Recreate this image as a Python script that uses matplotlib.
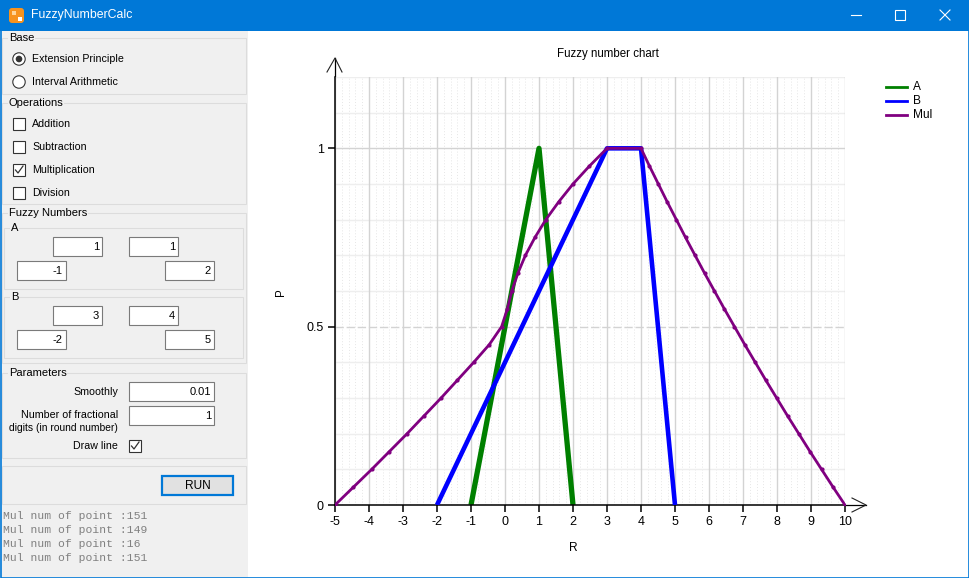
import numpy as np
import matplotlib.pyplot as plt
from matplotlib.patches import Rectangle, Circle, FancyBboxPatch

W, H = 970, 578

# fuzzy numbers (R values, P values)
a_r = [-1, 1, 1, 2]
a_p = [0, 1, 1, 0]
b_r = [-2, 3, 4, 5]
b_p = [0, 1, 1, 0]

# Mul result (left branch going up, right branch going up)
mul_p = [0.0, 0.05, 0.1, 0.15, 0.2, 0.25, 0.3, 0.35, 0.4, 0.45, 0.5,
         0.55, 0.6, 0.65, 0.7, 0.75, 0.8, 0.85, 0.9, 0.95, 1.0]
mul_left = [-5.0, -4.46, -3.92, -3.4, -2.88, -2.38, -1.88, -1.4, -0.92, -0.46, -0.1,
            0.07, 0.2, 0.38, 0.6, 0.88, 1.2, 1.58, 2.0, 2.48, 3.0]
mul_right = [10.0, 9.65, 9.31, 8.97, 8.64, 8.31, 7.99, 7.67, 7.36, 7.05, 6.75,
             6.45, 6.16, 5.87, 5.59, 5.31, 5.04, 4.77, 4.51, 4.25, 4.0]

series_names = ['A', 'B', 'Mul']
series_colors = ['#008000', '#0000ff', '#800080']

x_ticks = list(range(-5, 11))
y_ticks = [0, 0.5, 1]
y_tick_labels = ['0', '0.5', '1']

log_lines = ['Mul num of point :151', 'Mul num of point :149',
             'Mul num of point :16', 'Mul num of point :151']

ui_font = 'Liberation Sans'
chart_font = 'Liberation Sans'
panel = '#f0f0f0'
edge = '#dcdcdc'

fig = plt.figure(figsize=(W / 100, H / 100), dpi=100)
ui = fig.add_axes([0, 0, 1, 1], zorder=0)
ui.set_xlim(0, W)
ui.set_ylim(H, 0)
ui.axis('off')


def txt(x, y, s, size=7.7, **kw):
    kw.setdefault('va', 'center')
    kw.setdefault('color', '#000000')
    ui.text(x, y, s, fontsize=size, family=ui_font, **kw)


def rect(x0, y0, x1, y1, fc='none', ec=edge, lw=0.75, z=1):
    ui.add_patch(Rectangle((x0, y0), x1 - x0, y1 - y0, facecolor=fc,
                           edgecolor=ec, linewidth=lw, zorder=z))


def group(x0, y0, x1, y1, label):
    rect(x0, y0, x1, y1)
    txt(x0 + 7, y0, label, size=8.0, bbox=dict(fc=panel, ec='none', pad=0.5), zorder=3)


def textbox(x0, y0, x1, y1, s):
    rect(x0, y0, x1, y1, fc='white', ec='#7a7a7a', lw=0.8, z=2)
    txt(x1 - 3, (y0 + y1) / 2 + 0.5, s, size=8.0, ha='right', zorder=3)


def checkbox(x0, yc, checked):
    rect(x0, yc - 6, x0 + 12, yc + 6, fc='white', ec='#333333', lw=0.8, z=2)
    if checked:
        ui.plot([x0 + 2.5, x0 + 5, x0 + 10], [yc, yc + 3, yc - 4], color='#333333', lw=0.9, zorder=3)


def radio(xc, yc, selected):
    ui.add_patch(Circle((xc, yc), 6.2, facecolor='white', edgecolor='#333333', lw=0.8, zorder=2))
    if selected:
        ui.add_patch(Circle((xc, yc), 3.3, facecolor='#333333', edgecolor='none', zorder=3))


# window frame
rect(0, 0, W, H, fc='white', ec='none', z=0)
rect(0, 31, 248, H, fc=panel, ec='none', z=0)
rect(0, 0, W, 31, fc='#0078d7', ec='none', z=1)
ui.plot([0.5, 0.5, W - 0.5, W - 0.5], [31, H - 0.5, H - 0.5, 31], color='#0078d7', lw=1.2, zorder=5)
ui.add_patch(FancyBboxPatch((9, 8), 15, 15, boxstyle='round,pad=0,rounding_size=3',
                            fc='#f7931e', ec='none', zorder=2))
rect(12, 11, 16, 15, fc='#ffd59a', ec='none', z=3)
rect(18, 17, 22, 21, fc='#ffffff', ec='none', z=3)
txt(31, 15, 'FuzzyNumberCalc', size=8.8, color='white')
ui.plot([851, 861], [15, 15], color='white', lw=0.8)
rect(895, 10, 905, 20, ec='white', lw=0.8, z=2)
ui.plot([940, 950], [10, 20], color='white', lw=0.8)
ui.plot([940, 950], [20, 10], color='white', lw=0.8)

# Base
group(2, 38, 246, 94, 'Base')
radio(19, 59, True)
txt(32, 59, 'Extension Principle')
radio(19, 82, False)
txt(32, 82, 'Interval Arithmetic')

# Operations
group(2, 103, 246, 204, 'Operations')
for yy, name, on in [(124, 'Addition', False), (147, 'Subtraction', False),
                     (170, 'Multiplication', True), (193, 'Division', False)]:
    checkbox(13, yy, on)
    txt(32, yy, name)

# Fuzzy numbers
group(2, 213, 246, 363, 'Fuzzy Numbers')
group(4, 228, 243, 289, 'A')
group(4, 297, 243, 358, 'B')
for oy, vals in [(0, a_r), (69, b_r)]:
    textbox(53, 237 + oy, 102, 256 + oy, str(vals[1]))
    textbox(129, 237 + oy, 178, 256 + oy, str(vals[2]))
    textbox(17, 261 + oy, 66, 280 + oy, str(vals[0]))
    textbox(165, 261 + oy, 214, 280 + oy, str(vals[3]))

# Parameters
group(2, 373, 246, 458, 'Parameters')
txt(118, 392, 'Smoothly', ha='right')
textbox(129, 382, 214, 401, '0.01')
txt(118, 415, 'Number of fractional', ha='right')
txt(118, 428, 'digits (in round number)', ha='right', size=7.4)
textbox(129, 406, 214, 425, '1')
txt(118, 446, 'Draw line', ha='right')
checkbox(129, 446, True)

# run box
rect(2, 466, 246, 504)
rect(162, 476, 233, 495, fc='#e1e1e1', ec='#0078d7', lw=1.6, z=2)
txt(197.5, 486, 'RUN', ha='center', size=8.6, zorder=3)

for i, line in enumerate(log_lines):
    ui.text(3, 516 + 14 * i, line, fontsize=8.2, family='Liberation Mono',
            color='#808080', va='center')

# chart
ax = fig.add_axes([335 / W, (H - 505) / H, 510 / W, 428 / H], zorder=1)
ax.patch.set_visible(False)
ax.set_xlim(-5, 10)
ax.set_ylim(0, 1.2)

for xv in np.arange(-5, 10, 0.2):
    if abs(xv - round(xv)) > 1e-6:
        ax.axvline(xv, color='#e6e6e6', lw=0.7, ls=(0, (1, 2)), zorder=0)
for xv in x_ticks:
    ax.axvline(xv, color='#d3d3d3', lw=1.0, zorder=0.5)
for k in range(1, 13):
    yv = k / 10
    if k == 5:
        ax.axhline(yv, color='#d3d3d3', lw=1.0, ls=(0, (6, 2)), zorder=0.5)
    elif k == 10:
        ax.axhline(yv, color='#d3d3d3', lw=1.0, zorder=0.5)
    else:
        ax.axhline(yv, color='#eeeeee', lw=1.0, zorder=0.4)

ax.plot(a_r, a_p, color=series_colors[0], lw=3.8, solid_capstyle='butt', zorder=2)
ax.plot(b_r, b_p, color=series_colors[1], lw=3.3, solid_capstyle='butt', zorder=3)
mul_r = mul_left + mul_right[::-1]
mul_pp = mul_p + mul_p[::-1]
ax.plot(mul_r, mul_pp, color=series_colors[2], lw=2.0, marker='o', ms=2.0, zorder=4)

for s in ['top', 'right']:
    ax.spines[s].set_visible(False)
for s in ['left', 'bottom']:
    ax.spines[s].set_linewidth(1.1)
ax.set_xticks(x_ticks)
ax.set_xticklabels([str(v) for v in x_ticks])
ax.set_yticks(y_ticks)
ax.set_yticklabels(y_tick_labels)
ax.tick_params(direction='out', length=5, width=1.1, labelsize=9, pad=3)
for lab in ax.get_xticklabels() + ax.get_yticklabels():
    lab.set_family(chart_font)

# axis arrows
ui.plot([335, 335], [77, 58], color='black', lw=0.9, zorder=5)
ui.plot([327, 335, 342], [72, 58, 72], color='#222222', lw=0.8, zorder=5)
ui.plot([845, 866], [505, 505], color='black', lw=0.9, zorder=5)
ui.plot([852, 866, 852], [498, 505, 512], color='#222222', lw=0.8, zorder=5)

ui.text(608, 54, 'Fuzzy number chart', fontsize=8.3, family=chart_font, ha='center', va='center')
ui.text(281, 292, 'P', fontsize=8.3, family=chart_font, ha='center', va='center', rotation=90)
ui.text(573, 548, 'R', fontsize=8.6, family=chart_font, ha='center', va='center')

# legend
for i, (name, col) in enumerate(zip(series_names, series_colors)):
    yy = 87 + 14 * i
    ui.plot([886, 907], [yy, yy], color=col, lw=2.0, zorder=5)
    ui.text(913, yy, name, fontsize=8.6, family=chart_font, va='center', color='#000000')

fig.savefig('out.png', dpi=100)
